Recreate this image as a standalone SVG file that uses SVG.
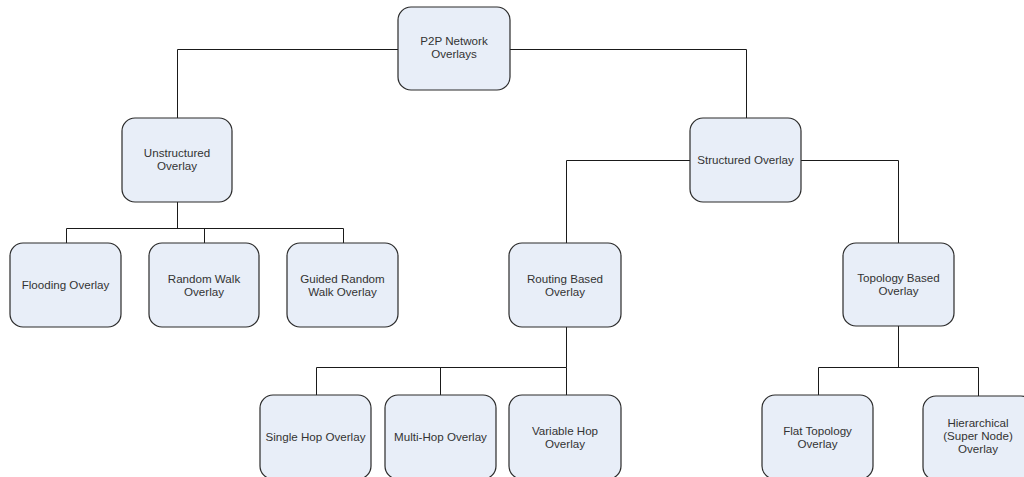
<svg xmlns="http://www.w3.org/2000/svg" width="1024" height="477" viewBox="0 0 1024 477">
  <style>
    .box { fill: #e8eef8; stroke: #2a2a2a; stroke-width: 1.2; }
    .lbl { font-family: "Liberation Sans", Arial, sans-serif; font-size: 11.6px; fill: #333333; text-anchor: middle; }
    .wire { fill: none; stroke: #1a1a1a; stroke-width: 1; }
  </style>
  <rect width="1024" height="477" fill="#ffffff"/>

  <!-- tree connectors -->
  <g id="connectors">
    <path class="wire" d="M398,49.5 H177.5 V118"/>
    <path class="wire" d="M510,49.5 H746.5 V118"/>
    <path class="wire" d="M177.5,202 V228.5"/>
    <path class="wire" d="M66.5,243 V228.5 H343.5 V243"/>
    <path class="wire" d="M204.5,228.5 V243"/>
    <path class="wire" d="M690,160.5 H566.5 V243"/>
    <path class="wire" d="M801,160.5 H898.5 V243"/>
    <path class="wire" d="M566.5,327 V367.5"/>
    <path class="wire" d="M316.5,395 V367.5 H566.5 V395"/>
    <path class="wire" d="M440.5,367.5 V395"/>
    <path class="wire" d="M898.5,326 V367.5"/>
    <path class="wire" d="M818.5,395 V367.5 H978.5 V396"/>
  </g>

  <g id="p2p">
    <rect class="box" x="398" y="7" width="112" height="83" rx="13"/>
    <text class="lbl" x="454" y="45">P2P Network</text>
    <text class="lbl" x="454" y="58">Overlays</text>
  </g>
  <g id="unstructured">
    <rect class="box" x="122" y="118" width="110" height="84" rx="13"/>
    <text class="lbl" x="177" y="157">Unstructured</text>
    <text class="lbl" x="177" y="170">Overlay</text>
  </g>
  <g id="structured">
    <rect class="box" x="690" y="118" width="111" height="84" rx="13"/>
    <text class="lbl" x="745.5" y="164">Structured Overlay</text>
  </g>
  <g id="flooding">
    <rect class="box" x="10" y="243" width="111" height="84" rx="13"/>
    <text class="lbl" x="65.5" y="289">Flooding Overlay</text>
  </g>
  <g id="random-walk">
    <rect class="box" x="149" y="243" width="110" height="84" rx="13"/>
    <text class="lbl" x="204" y="283">Random Walk</text>
    <text class="lbl" x="204" y="296">Overlay</text>
  </g>
  <g id="guided-random-walk">
    <rect class="box" x="287" y="243" width="111" height="84" rx="13"/>
    <text class="lbl" x="342.5" y="283">Guided Random</text>
    <text class="lbl" x="342.5" y="296">Walk Overlay</text>
  </g>
  <g id="routing">
    <rect class="box" x="509" y="243" width="112" height="84" rx="13"/>
    <text class="lbl" x="565" y="283">Routing Based</text>
    <text class="lbl" x="565" y="296">Overlay</text>
  </g>
  <g id="topology">
    <rect class="box" x="843" y="243" width="111" height="83" rx="13"/>
    <text class="lbl" x="898.5" y="282">Topology Based</text>
    <text class="lbl" x="898.5" y="295">Overlay</text>
  </g>
  <g id="single-hop">
    <rect class="box" x="260" y="395" width="111" height="84" rx="13"/>
    <text class="lbl" x="315.5" y="441">Single Hop Overlay</text>
  </g>
  <g id="multi-hop">
    <rect class="box" x="385" y="395" width="111" height="84" rx="13"/>
    <text class="lbl" x="440.5" y="441">Multi-Hop Overlay</text>
  </g>
  <g id="variable-hop">
    <rect class="box" x="509" y="395" width="112" height="84" rx="13"/>
    <text class="lbl" x="565" y="435">Variable Hop</text>
    <text class="lbl" x="565" y="448">Overlay</text>
  </g>
  <g id="flat-topology">
    <rect class="box" x="762" y="395" width="111" height="84" rx="13"/>
    <text class="lbl" x="817.5" y="435">Flat Topology</text>
    <text class="lbl" x="817.5" y="448">Overlay</text>
  </g>
  <g id="hierarchical">
    <rect class="box" x="923" y="396" width="111" height="84" rx="13"/>
    <text class="lbl" x="978" y="427">Hierarchical</text>
    <text class="lbl" x="978" y="440">(Super Node)</text>
    <text class="lbl" x="978" y="453">Overlay</text>
  </g>
</svg>
